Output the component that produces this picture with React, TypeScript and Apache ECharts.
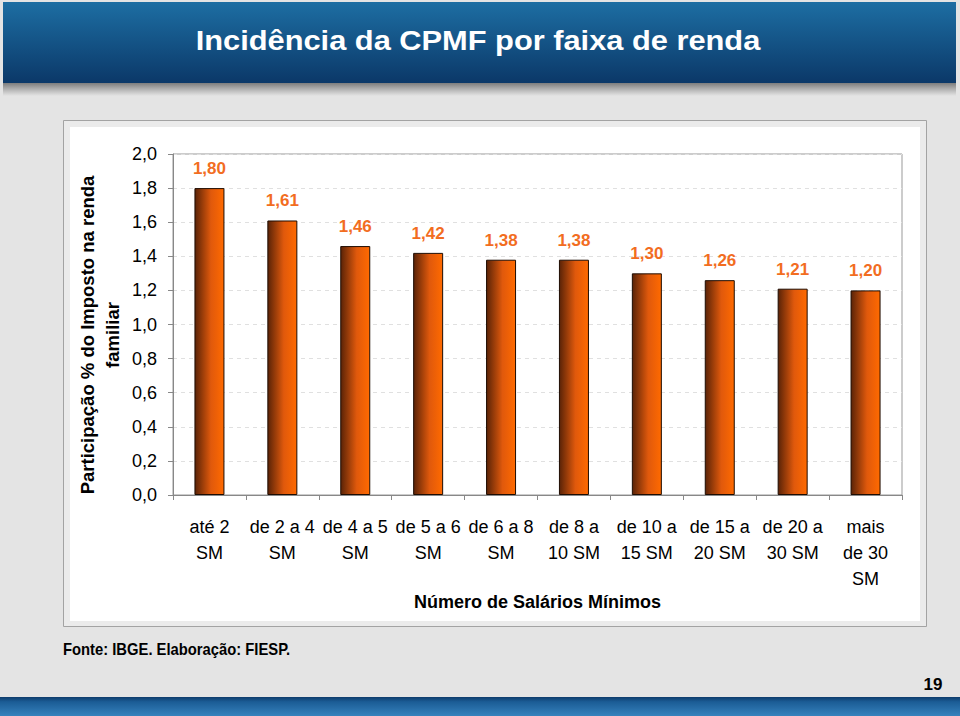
import React, { useEffect, useRef } from 'react';
import * as echarts from 'echarts';

const categories = [
  'até 2\nSM',
  'de 2 a 4\nSM',
  'de 4 a 5\nSM',
  'de 5 a 6\nSM',
  'de 6 a 8\nSM',
  'de 8 a\n10 SM',
  'de 10 a\n15 SM',
  'de 15 a\n20 SM',
  'de 20 a\n30 SM',
  'mais\nde 30\nSM',
];
const values = [1.8, 1.61, 1.46, 1.42, 1.38, 1.38, 1.3, 1.26, 1.21, 1.2];
const yMin = 0;
const yMax = 2;
const yInterval = 0.2;
const titleText = 'Incidência da CPMF por faixa de renda';
const yName = 'Participação % do Imposto na renda\nfamiliar';
const xName = 'Número de Salários Mínimos';
const sourceText = 'Fonte: IBGE. Elaboração: FIESP.';
const pageNumber = '19';

const FONT = '"Liberation Sans", Arial, sans-serif';

export default function App() {
  const ref = useRef<HTMLDivElement>(null);
  useEffect(() => {
    if (!ref.current) return;
    const chart = echarts.init(ref.current, undefined, { renderer: 'svg' });
    chart.setOption({
      animation: false,
      backgroundColor: '#e4e4e4',
      textStyle: { fontFamily: FONT },
      grid: { left: 173, top: 154, width: 729, height: 341, show: true, borderColor: '#999', borderWidth: 1, backgroundColor: 'transparent' },
      graphic: [
        // title banner
        {
          type: 'rect', z: -10, shape: { x: 3, y: 2, width: 953, height: 81 },
          style: { fill: new echarts.graphic.LinearGradient(0, 0, 0, 1, [
            { offset: 0, color: '#1d6ea3' }, { offset: 1, color: '#0b3868' } ]) },
        },
        {
          type: 'rect', z: -10, shape: { x: 3, y: 83, width: 953, height: 13 },
          style: { fill: new echarts.graphic.LinearGradient(0, 0, 0, 1, [
            { offset: 0, color: 'rgba(40,40,40,0.55)' }, { offset: 1, color: 'rgba(60,60,60,0)' } ]) },
        },
        {
          type: 'text', z: 10, x: 478, y: 40, scaleX: 1.1, originX: 0, originY: 0,
          style: { text: titleText, fill: '#ffffff', font: 'bold 28px ' + FONT, textAlign: 'center', textVerticalAlign: 'middle' },
        },
        // chart panel
        {
          type: 'rect', z: -10, shape: { x: 63.5, y: 120.5, width: 863, height: 506 },
          style: { fill: '#ebebeb', stroke: '#a3a3a3', lineWidth: 1 },
        },
        {
          type: 'rect', z: -9, shape: { x: 70, y: 127, width: 850, height: 494 },
          style: { fill: '#ffffff' },
        },
        // y axis name
        {
          type: 'text', z: 10, x: 100, y: 335, rotation: Math.PI / 2,
          style: { text: yName, fill: '#000', font: 'bold 18.5px ' + FONT, textAlign: 'center', textVerticalAlign: 'middle', lineHeight: 25 },
        },
        // source
        {
          type: 'text', z: 10, x: 63, y: 649, scaleX: 0.87, originX: 0, originY: 0,
          style: { text: sourceText, fill: '#000', font: 'bold 17px ' + FONT, textAlign: 'left', textVerticalAlign: 'middle' },
        },
        // page number
        {
          type: 'text', z: 10, x: 933, y: 684,
          style: { text: pageNumber, fill: '#000', font: 'bold 17px ' + FONT, textAlign: 'center', textVerticalAlign: 'middle' },
        },
        // bottom band
        {
          type: 'rect', z: -10, shape: { x: 0, y: 697, width: 960, height: 19 },
          style: { fill: new echarts.graphic.LinearGradient(0, 0, 0, 1, [
            { offset: 0, color: '#0e3c6c' }, { offset: 0.25, color: '#1b5c95' }, { offset: 1, color: '#3682bd' } ]) },
        },
      ],
      xAxis: {
        type: 'category',
        data: categories,
        name: xName,
        nameLocation: 'middle',
        nameGap: 98,
        nameTextStyle: { fontSize: 18, fontWeight: 'bold', color: '#000', fontFamily: FONT },
        axisLine: { lineStyle: { color: '#888', width: 1 } },
        axisTick: { show: true, length: 5, alignWithLabel: false, lineStyle: { color: '#888' } },
        axisLabel: { interval: 0, fontSize: 18, color: '#000', lineHeight: 26, margin: 19, fontFamily: FONT },
        splitLine: { show: false },
      },
      yAxis: {
        type: 'value',
        min: yMin,
        max: yMax,
        interval: yInterval,
        axisLine: { show: true, lineStyle: { color: '#888', width: 1 } },
        axisTick: { show: true, length: 5, lineStyle: { color: '#888' } },
        axisLabel: {
          fontSize: 18, color: '#000', margin: 16, fontFamily: FONT,
          formatter: (v: number) => v.toFixed(1).replace('.', ','),
        },
        splitLine: { show: true, lineStyle: { color: '#e0e0e0', type: [4, 4], width: 1 } },
      },
      series: [
        {
          type: 'bar',
          data: values,
          barWidth: 30,
          itemStyle: {
            color: new echarts.graphic.LinearGradient(0, 0, 1, 0, [
              { offset: 0, color: '#5a2307' },
              { offset: 0.55, color: '#e0590c' },
              { offset: 1, color: '#ff6a00' },
            ]),
            borderColor: '#1e0c02',
            borderWidth: 1,
          },
          label: {
            show: true,
            position: 'top',
            distance: 11,
            fontSize: 17,
            fontWeight: 'bold',
            color: '#f26d1f',
            fontFamily: FONT,
            formatter: (p: any) => Number(p.value).toFixed(2).replace('.', ','),
          },
        },
      ],
    });
    return () => chart.dispose();
  }, []);
  return <div ref={ref} style={{ position: 'absolute', left: 0, top: 0, width: 960, height: 716 }} />;
}
